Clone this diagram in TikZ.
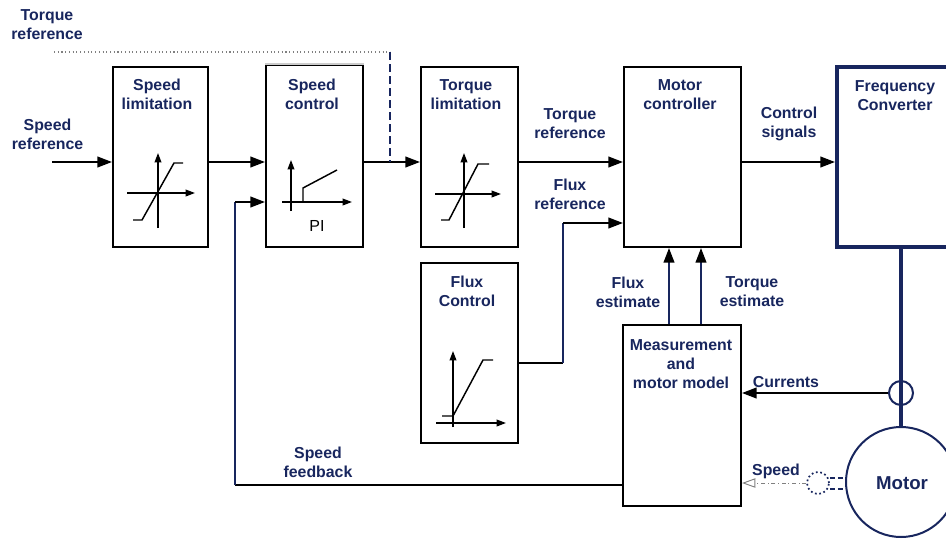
\documentclass[tikz,border=0pt]{standalone}
\usepackage{fontspec}
\setmainfont{Liberation Sans}
\usetikzlibrary{arrows.meta}
\definecolor{navy}{RGB}{24,38,94}
\begin{document}
\begin{tikzpicture}[x=0.75pt,y=-0.75pt,
  blk/.style={draw=black, line width=1.5pt, inner sep=0pt, minimum width=72.75pt, minimum height=135pt},
  lbl/.style={text=navy, font=\bfseries\fontsize{11.9}{14.2}\selectfont, align=center, inner sep=0pt},
  arr/.style={line width=1.5pt, -{Triangle[length=11pt,width=8pt,color=black]}},
  con/.style={line width=1.5pt},
  ax/.style={line width=1.1pt, -{Triangle[length=7pt,width=5pt]}},
  crv/.style={line width=1.1pt}]
\useasboundingbox (0,0) rectangle (946,539);

% blocks
\node[blk, minimum width=71.25pt] (sl) at (160.5,157) {};
\node[blk, minimum height=136.5pt] (sc) at (314.5,156) {};
\draw[black!20, line width=1.5pt] (sc.north west) -- (sc.north east);
\node[blk] (tl) at (469.5,157) {};
\node[blk] (fc) at (469.5,353) {};
\node[blk, minimum width=87.75pt] (mc) at (682.5,157) {};
\node[blk, minimum width=88.5pt, minimum height=135.75pt] (mm) at (682,415.5) {};
\node[draw=navy, line width=3pt, inner sep=0pt, minimum width=92.25pt, minimum height=135pt] (conv) at (898.5,157) {};
\node[draw=navy, line width=1.5pt, circle, inner sep=0pt, minimum size=82.5pt] (motor) at (901,482) {};
\node[draw=navy, line width=1.5pt, circle, inner sep=0pt, minimum size=18pt] (cs) at (901,393) {};
\node[draw=navy, line width=1.3pt, dotted, circle, inner sep=0pt, minimum size=16.5pt] (ss) at (818,483) {};

% labels
\node[lbl] (l1) at (47,24.5) {Torque\\reference};
\node[lbl] (l2) at (47.5,134) {Speed\\reference};
\node[lbl] (l3) at (157,94.5) {Speed\\limitation};
\node[lbl] (l4) at (312,94) {Speed\\control};
\node[lbl] (l5) at (466,94.5) {Torque\\limitation};
\node[lbl] (l6) at (570,123.5) {Torque\\reference};
\node[lbl] (l7) at (570,194.5) {Flux\\reference};
\node[lbl] (l8) at (680,94.5) {Motor\\controller};
\node[lbl] (l9) at (789,123.5) {Control\\signals};
\node[lbl] (l10) at (895,95.5) {Frequency\\Converter};
\node[lbl] (l11) at (467,291) {Flux\\Control};
\node[lbl] (l12) at (628,292) {Flux\\estimate};
\node[lbl] (l13) at (752,292) {Torque\\estimate};
\node[lbl] (l14) at (681,364) {Measurement\\and\\motor model};
\node[lbl] (l15) at (786,382) {Currents};
\node[lbl] (l16) at (776,471) {Speed};
\node[lbl] (l17) at (318,462.5) {Speed\\feedback};
\node[lbl, font=\bfseries\fontsize{14}{16}\selectfont] (l18) at (902,483) {Motor};
\node[inner sep=0pt, font=\fontsize{12}{14}\selectfont] (pi) at (317,226) {PI};

% coordinates
\coordinate (srin) at (52,162);
\coordinate (trs) at (54,52);
\coordinate (trc) at (390,52);
\coordinate (trj) at (390,162);
\coordinate (fx1) at (563,363);
\coordinate (fx2) at (563,223);
\coordinate (sf1) at (235,485);
\coordinate (sf2) at (235,202);
\coordinate (fe) at (669,0);
\coordinate (te) at (701,0);

% connectors
\draw[arr] (srin) -- (srin -| sl.west);
\draw[arr] (sl.east |- srin) -- (sc.west |- srin);
\draw[arr] (sc.east |- srin) -- (tl.west |- srin);
\draw[gray, line width=0.8pt, dotted] (trs) -- (trc);
\draw[navy, line width=1.3pt, dash pattern=on 6pt off 3pt] (trc) -- (trj);
\draw[arr] (tl.east |- srin) -- (mc.west |- srin);
\draw[arr] (mc.east |- srin) -- (conv.west |- srin);
\draw[con] (fc.east |- fx1) -- (fx1);
\draw[con, navy] (fx1) -- (fx2);
\draw[arr] (fx2) -- (mc.west |- fx2);
\draw[arr, navy] (mm.north -| fe) -- (mc.south -| fe);
\draw[arr, navy] (mm.north -| te) -- (mc.south -| te);
\draw[navy, line width=3pt] (conv.south -| motor.north) -- (motor.north);
\draw[arr] (cs.west) -- (mm.east |- cs.west);
\draw[con] (mm.west |- sf1) -- (sf1);
\draw[con, navy] (sf1) -- (sf2);
\draw[arr] (sf2) -- (sc.west |- sf2);
\draw[gray, line width=0.7pt, dash dot, -{Triangle[open,length=10pt,width=7pt]}] (ss.west) -- (mm.east |- ss.west);
\draw[navy, line width=1.5pt, dash pattern=on 4pt off 2pt] (ss.east |- 0,478) -- (motor.west |- 0,478);
\draw[navy, line width=1.5pt, dash pattern=on 4pt off 2pt] (ss.east |- 0,489) -- (motor.west |- 0,489);

% characteristic curves
\draw[ax] (158,228) -- (158,153);
\draw[ax] (127,193) -- (195,193);
\draw[crv] (133,220) -- (142,220) -- (174,163) -- (183,163);

\draw[ax] (291,211) -- (291,160);
\draw[ax] (282,202) -- (352,202);
\draw[crv] (303,202) -- (303,188) -- (337,170);

\draw[ax] (464,228) -- (464,153);
\draw[ax] (435,194) -- (501,194);
\draw[crv] (441,220) -- (449,220) -- (478,164) -- (489,164);

\draw[ax] (453,427) -- (453,351);
\draw[ax] (436,423) -- (506,423);
\draw[crv] (442,416) -- (453,416) -- (483,360) -- (493,360);
\end{tikzpicture}
\end{document}
